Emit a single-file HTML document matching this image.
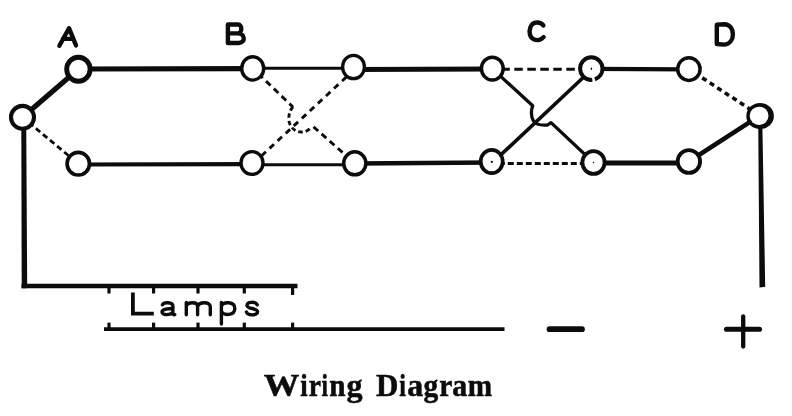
<!DOCTYPE html>
<html>
<head>
<meta charset="utf-8">
<title>Wiring Diagram</title>
<style>
html,body{margin:0;padding:0;background:#fff;}
body{width:792px;height:416px;overflow:hidden;font-family:"Liberation Sans",sans-serif;}
svg{display:block;filter:grayscale(1);}
.cap{font-family:"Liberation Serif",serif;font-weight:bold;fill:#0c0c0c;stroke:#0c0c0c;stroke-width:0.5;}
</style>
</head>
<body>
<svg width="792" height="416" viewBox="0 0 792 416">
<rect x="0" y="0" width="792" height="416" fill="#ffffff"/>
<g fill="none" stroke="#0c0c0c" stroke-linecap="butt">
  <!-- left feeder -->
  <line x1="22.5" y1="117.3" x2="78.5" y2="69" stroke-width="5.1"/>
  <line x1="22.5" y1="117.3" x2="78.3" y2="163.7" stroke-width="2.8" stroke-dasharray="5.6 3.6" stroke-dashoffset="1"/>
  <!-- top run -->
  <line x1="78.5" y1="69" x2="252.6" y2="68.6" stroke-width="5.1"/>
  <line x1="252.6" y1="68.3" x2="353.8" y2="68.3" stroke-width="3.1"/>
  <line x1="353.8" y1="69.5" x2="492.3" y2="69" stroke-width="5"/>
  <line x1="492.3" y1="69.3" x2="591.5" y2="69.3" stroke-width="2.9" stroke-dasharray="8.5 4.5" stroke-dashoffset="4"/>
  <line x1="591.5" y1="68.8" x2="688.9" y2="69.3" stroke-width="4.3"/>
  <line x1="688.9" y1="69.1" x2="759.8" y2="115.6" stroke-width="3.6" stroke-dasharray="5 4" stroke-dashoffset="2"/>
  <!-- bottom run -->
  <line x1="78.3" y1="164.5" x2="252" y2="164.1" stroke-width="4.2"/>
  <line x1="252" y1="164.8" x2="354.8" y2="164.8" stroke-width="3.1"/>
  <line x1="354.8" y1="163.6" x2="491.8" y2="162.6" stroke-width="4.5"/>
  <line x1="491.8" y1="163.5" x2="593.5" y2="163.5" stroke-width="3.0" stroke-dasharray="6 3" stroke-dashoffset="2"/>
  <line x1="593.5" y1="163" x2="688.9" y2="163" stroke-width="4.9"/>
  <line x1="688.9" y1="161.5" x2="759.8" y2="115.6" stroke-width="4.5"/>
  <!-- B cross (dashed) -->
  <line x1="353.8" y1="70.1" x2="252" y2="164.7" stroke-width="2.9" stroke-dasharray="6 5" stroke-dashoffset="1"/>
  <path d="M252.6 68.3 L293 107" stroke-width="2.9" stroke-dasharray="6.3 4.5" stroke-dashoffset="3"/>
  <path d="M293 106.8 Q288.4 112 288.9 119.3 A12.6 12.6 0 0 0 311.4 127.2" stroke-width="2.9" stroke-dasharray="4.5 3"/>
  <path d="M313.5 126.8 L354.8 163.3" stroke-width="2.9" stroke-dasharray="6.3 4.5"/>
  <!-- C cross (solid) -->
  <line x1="491.8" y1="163.4" x2="591.5" y2="69.8" stroke-width="3.6"/>
  <path d="M492.3 68.6 L532.7 105.8 C531 110 530.8 117 533.5 121 C536 125 542 125.4 547.5 125 L551 122.6 L593.5 162.5" stroke-width="3.3" stroke-linejoin="round"/>
  <!-- vertical feeders -->
  <polygon points="21.3,120 26.2,120 27.2,288.3 21.7,288.3" fill="#0c0c0c" stroke="none"/>
  <line x1="21.5" y1="286" x2="297.5" y2="286" stroke-width="4.7"/>
  <polygon points="758.2,120 762.3,120 765.2,286.8 759.5,287.6" fill="#0c0c0c" stroke="none"/>
  <!-- lamps rails -->
  <line x1="104" y1="329.1" x2="504.5" y2="329.1" stroke-width="3.9"/>
  <g stroke-width="3.2">
    <line x1="109" y1="286" x2="109" y2="293.5"/>
    <line x1="153.6" y1="286" x2="153.6" y2="293.5"/>
    <line x1="198" y1="286" x2="198" y2="293.5"/>
    <line x1="244.3" y1="286" x2="244.3" y2="293.5"/>
    <line x1="292.6" y1="286" x2="292.6" y2="295"/>
    <line x1="109" y1="322.6" x2="109" y2="329.5"/>
    <line x1="153.6" y1="322.6" x2="153.6" y2="329.5"/>
    <line x1="198" y1="322.6" x2="198" y2="329.5"/>
    <line x1="244.3" y1="322.6" x2="244.3" y2="329.5"/>
    <line x1="292.6" y1="322.6" x2="292.6" y2="329.5"/>
  </g>
  <!-- minus / plus -->
  <line x1="549.5" y1="329.2" x2="582" y2="329.2" stroke-width="5.7" stroke-linecap="round"/>
  <line x1="726.5" y1="329.2" x2="759.5" y2="329.2" stroke-width="5.1" stroke-linecap="round"/>
  <line x1="743.2" y1="316.5" x2="743.2" y2="346.5" stroke-width="4.3" stroke-linecap="round"/>
</g>
<!-- nodes -->
<g fill="#ffffff" stroke="#0c0c0c">
  <ellipse cx="22.5" cy="117.3" rx="11.5" ry="11.4" stroke-width="4.1"/>
  <ellipse cx="78.4" cy="69.3" rx="11.7" ry="12" stroke-width="4.9"/>
  <ellipse cx="78.3" cy="163.7" rx="11.2" ry="11.3" stroke-width="3.7"/>
  <ellipse cx="252.7" cy="68.4" rx="11.0" ry="11.7" stroke-width="3.4"/>
  <ellipse cx="252" cy="163" rx="11.0" ry="11.4" stroke-width="3.4"/>
  <ellipse cx="353.5" cy="67" rx="10.9" ry="11.7" stroke-width="3.3"/>
  <ellipse cx="354.8" cy="163.3" rx="11.1" ry="11.5" stroke-width="3.5"/>
  <ellipse cx="492.3" cy="68.6" rx="10.9" ry="11.4" stroke-width="3.5"/>
  <ellipse cx="491.7" cy="161.5" rx="11" ry="11.6" stroke-width="3.7"/>
  <ellipse cx="591.3" cy="68.6" rx="11.2" ry="11.3" stroke-width="4" stroke-dasharray="13.9 2.6 60"/>
  <ellipse cx="593.5" cy="162.5" rx="11.1" ry="11.4" stroke-width="3.8"/>
  <ellipse cx="688.9" cy="69.1" rx="11.2" ry="11.3" stroke-width="3.5"/>
  <ellipse cx="688.9" cy="161.5" rx="11.2" ry="11.4" stroke-width="3.8"/>
</g>
<ellipse cx="760.1" cy="116" rx="13.8" ry="13" fill="#0c0c0c"/>
<ellipse cx="759.1" cy="115.8" rx="9.4" ry="9.1" fill="#ffffff"/>
<!-- centre dots -->
<g fill="#0c0c0c">
  <ellipse cx="591.4" cy="68.8" rx="0.7" ry="1.2"/>
  <circle cx="491.8" cy="161.9" r="1.1"/>
  <circle cx="593.5" cy="162.5" r="0.7"/>
</g>
<!-- hand lettered labels -->
<g fill="none" stroke="#0c0c0c" stroke-width="4.4" stroke-linecap="round" stroke-linejoin="round">
  <path d="M59.4 45.7 L69 28.2 L76 45.4 M62.8 38.9 L73.2 38.9"/>
  <path d="M227.9 24.5 L227.9 43 M227.9 24.5 L238 24.5 C242.4 24.5 242.4 33.4 237.8 33.4 L228.5 33.4 M237.8 33.4 C245.6 33.6 245.6 43 238.6 43 L227.9 43"/>
  <path d="M543.4 25.4 C540.6 21.6 533 21 530.5 27 C528.6 32 529.7 37.4 533.6 39.2 C537.4 40.9 541.4 39.8 543.6 37.2"/>
  <path d="M716.8 25 L716.8 44 M716.8 24.6 L724.5 24.2 C730 24.5 732.9 29 732.9 34.5 C732.9 40 729.5 44 724.5 44.6 L716.8 44"/>
</g>
<!-- Lamps -->
<g fill="none" stroke="#0c0c0c" stroke-linecap="butt" stroke-linejoin="miter">
  <path d="M132.9 292.6 V313.7 H153.8" stroke-width="3.8"/>
  <g stroke-width="3.4" stroke-linecap="round" stroke-linejoin="round" transform="translate(0 0.4)">
    <path d="M162.4 304.4 C163.5 301.6 172.9 301.2 172.9 305.6 L172.9 313.6 C172.9 314.2 173.8 314.4 174.8 314.2 M172.9 308 C168 308.4 162 308.4 162 311.6 C162 315.4 170.5 314.8 172.9 311.8"/>
    <path d="M186.3 302 V314.3 M186.3 305.6 C187.8 301.4 197.6 301 197.6 306 V314.3 M197.6 306 C199 301.4 210.3 300.8 210.3 306.4 V314.3"/>
    <path d="M221.4 302 V323.6 M221.4 305.2 C223.5 301.2 234.8 300.8 234.8 308 C234.8 315.4 223.5 315.4 221.4 311.2"/>
    <path d="M257.2 304.4 C256 301.2 247 300.8 247 305 C247 308.8 257.6 307.4 257.6 311.4 C257.6 315.6 247.6 315.2 246.4 311.6"/>
  </g>
</g>
<!-- caption -->
<g class="cap" font-size="30">
  <text transform="translate(263.70 395.7) scale(1.186 1.02)">W</text>
  <text transform="translate(300.15 395.7) scale(0.890 1.02)">i</text>
  <text transform="translate(308.74 395.7) scale(0.920 1.02)">r</text>
  <text transform="translate(321.61 395.7) scale(0.774 1.02)">i</text>
  <text transform="translate(329.21 395.7) scale(0.975 1.02)">n</text>
  <text transform="translate(346.47 395.7) scale(1.069 1.02)">g</text>
  <text transform="translate(375.94 395.7) scale(1.032 1.02)">D</text>
  <text transform="translate(399.20 395.7) scale(0.800 1.02)">i</text>
  <text transform="translate(407.20 395.7) scale(1.064 1.02)">a</text>
  <text transform="translate(423.41 395.7) scale(0.979 1.02)">g</text>
  <text transform="translate(439.31 395.7) scale(0.984 1.02)">r</text>
  <text transform="translate(452.15 395.7) scale(1.000 1.02)">a</text>
  <text transform="translate(467.71 395.7) scale(0.973 1.02)">m</text>
</g>
</svg>
</body>
</html>
